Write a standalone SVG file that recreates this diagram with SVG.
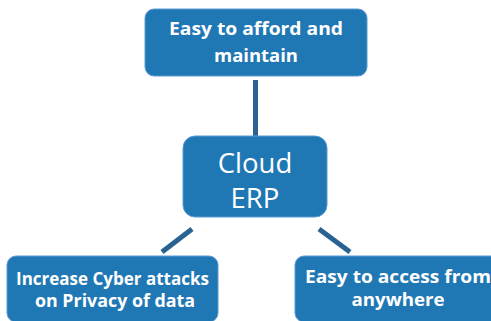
<svg xmlns="http://www.w3.org/2000/svg" width="491" height="321" viewBox="0 0 491 321">
<style>
.box{fill:#1f78b4;stroke:#5b9bd5;stroke-width:1}
.bt{font-family:"Open Sans","Liberation Sans",sans-serif;font-weight:bold;font-size:18px;fill:#fff;text-anchor:middle}
.ct{font-family:"Open Sans","Liberation Sans",sans-serif;font-size:27.5px;fill:#fff;text-anchor:middle}
.conn{stroke:#2a6393;stroke-width:5;fill:none}
</style>
<rect width="491" height="321" fill="#fff"/>
<g id="connectors">
<line class="conn" x1="255.5" y1="80" x2="255.5" y2="136"/>
<line class="conn" x1="192" y1="229" x2="162" y2="252"/>
<line class="conn" x1="319" y1="229" x2="350" y2="252"/>
</g>
<g id="top">
<rect class="box" x="145" y="9" width="222" height="67" rx="9"/>
<text class="bt" x="256" y="35" textLength="174" lengthAdjust="spacingAndGlyphs">Easy to afford and</text>
<text class="bt" x="256" y="62" textLength="84" lengthAdjust="spacingAndGlyphs">maintain</text>
</g>
<g id="center">
<rect class="box" x="183" y="136" width="144" height="81" rx="12"/>
<text class="ct" x="255" y="173">Cloud</text>
<text class="ct" x="255" y="208">ERP</text>
</g>
<g id="left">
<rect class="box" x="7" y="256" width="211" height="66" rx="9"/>
<text class="bt" x="112.5" y="285" textLength="193" lengthAdjust="spacingAndGlyphs">Increase Cyber attacks</text>
<text class="bt" x="115" y="307" textLength="160" lengthAdjust="spacingAndGlyphs">on Privacy of data</text>
</g>
<g id="right">
<rect class="box" x="295" y="256" width="206" height="66" rx="9"/>
<text class="bt" x="398" y="283" textLength="186" lengthAdjust="spacingAndGlyphs">Easy to access from</text>
<text class="bt" x="398" y="306" textLength="93" lengthAdjust="spacingAndGlyphs">anywhere</text>
</g>
</svg>
